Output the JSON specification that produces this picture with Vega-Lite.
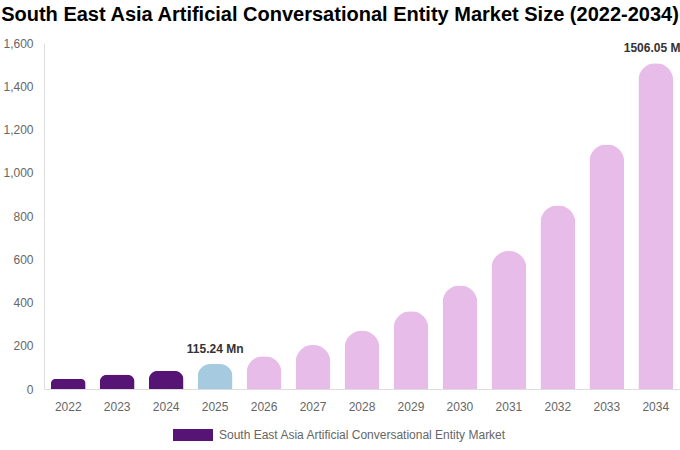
{
  "$schema": "https://vega.github.io/schema/vega-lite/v6.json",
  "width": 636,
  "height": 346,
  "autosize": {"type": "none"},
  "padding": {"left": 44, "top": 43, "right": 0, "bottom": 61},
  "title": {
    "text": "South East Asia Artificial Conversational Entity Market Size (2022-2034)",
    "font": "Liberation Sans",
    "fontSize": 20,
    "fontWeight": "bold",
    "color": "#000000",
    "anchor": "middle",
    "dx": -22,
    "offset": 12
  },
  "data": {
    "values": [
      {"year": "2022", "value": 47, "label": ""},
      {"year": "2023", "value": 66, "label": ""},
      {"year": "2024", "value": 84, "label": ""},
      {"year": "2025", "value": 115.24, "label": "115.24 Mn"},
      {"year": "2026", "value": 152, "label": ""},
      {"year": "2027", "value": 203, "label": ""},
      {"year": "2028", "value": 269, "label": ""},
      {"year": "2029", "value": 359, "label": ""},
      {"year": "2030", "value": 479, "label": ""},
      {"year": "2031", "value": 638, "label": ""},
      {"year": "2032", "value": 848, "label": ""},
      {"year": "2033", "value": 1131, "label": ""},
      {"year": "2034", "value": 1506.05, "label": "1506.05 Mn"}
    ]
  },
  "encoding": {
    "x": {
      "field": "year",
      "type": "ordinal",
      "title": null,
      "scale": {"paddingInner": 0.29, "paddingOuter": 0.14},
      "axis": {
        "labelAngle": 0,
        "labelFont": "Liberation Sans",
        "labelFontSize": 12,
        "labelColor": "#666666",
        "labelPadding": 12,
        "ticks": false,
        "domainColor": "#dddddd"
      }
    },
    "y": {
      "field": "value",
      "type": "quantitative",
      "title": null,
      "scale": {"domain": [0, 1600]},
      "axis": {
        "values": [0, 200, 400, 600, 800, 1000, 1200, 1400, 1600],
        "format": ",.0f",
        "grid": false,
        "ticks": false,
        "labelFont": "Liberation Sans",
        "labelFontSize": 12,
        "labelColor": "#666666",
        "labelPadding": 11,
        "domainColor": "#dddddd"
      }
    }
  },
  "layer": [
    {
      "mark": {"type": "bar", "cornerRadiusTopLeft": 17, "cornerRadiusTopRight": 17},
      "transform": [
        {"calculate": "'South East Asia Artificial Conversational Entity Market'", "as": "series"}
      ],
      "encoding": {
        "color": {
          "condition": [
            {"test": "datum.year == '2025'", "value": "#a6cbe0"},
            {"test": "datum.year > '2025'", "value": "#e8bce9"}
          ],
          "field": "series",
          "type": "nominal",
          "scale": {"range": ["#561475"]},
          "legend": {
            "title": null,
            "orient": "none",
            "legendX": 129,
            "legendY": 372,
            "symbolType": "M-1,-0.3H1V0.3H-1Z",
            "symbolSize": 1600,
            "symbolOpacity": 1,
            "symbolStrokeWidth": 0,
            "labelFont": "Liberation Sans",
            "labelFontSize": 12,
            "labelColor": "#666666",
            "labelOffset": 6,
            "labelLimit": 500
          }
        }
      }
    },
    {
      "mark": {
        "type": "text",
        "baseline": "bottom",
        "dy": -8,
        "font": "Liberation Sans",
        "fontSize": 12,
        "fontWeight": "bold",
        "color": "#333333"
      },
      "transform": [{"filter": "datum.label != ''"}],
      "encoding": {"text": {"field": "label"}}
    }
  ],
  "config": {"view": {"stroke": null}}
}
